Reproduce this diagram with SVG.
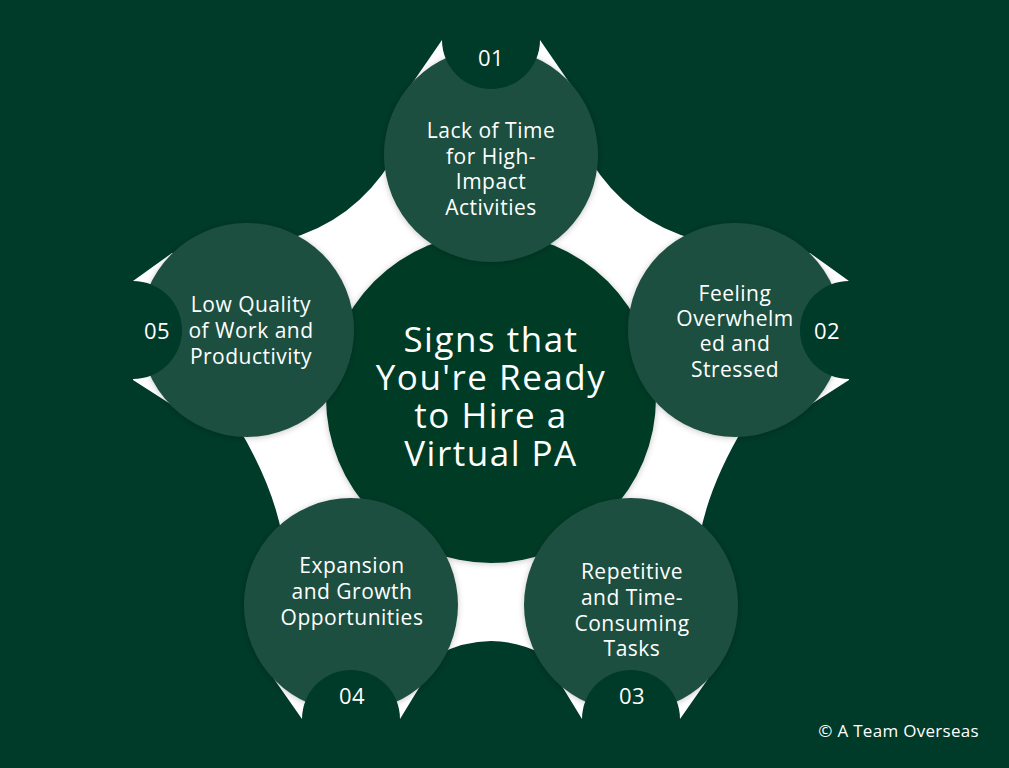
<svg xmlns="http://www.w3.org/2000/svg" width="1009" height="768" viewBox="0 0 1009 768">
<defs>
<filter id="sh" x="-20%" y="-20%" width="140%" height="140%">
<feDropShadow dx="0" dy="1" stdDeviation="3" flood-color="#000" flood-opacity="0.22"/>
</filter>
<style>
.bg{fill:#003a28}
.dark{fill:#003a28}
.node{fill:#1f4f40}
.t{font-family:"Open Sans","Noto Sans",sans-serif;fill:#ffffff;text-anchor:middle}
.lbl{font-size:21px;letter-spacing:0.5px}
.num{font-size:22px;letter-spacing:0.5px}
.title{font-size:35px;letter-spacing:1.5px}
</style>
</defs>
<rect class="bg" x="0" y="0" width="1009" height="768"/>
<g id="connectors">
<path id="star" fill="#ffffff" d="M442,40 L540,40 L571,85 L562,110 L590,160 Q628.5,222 697,240 L782,255 L810,253 L849,281 L849,380 L810,405 L790,400 L745,425 Q709.5,484 700,535 L720,600 L700,670 L708,679 L680,719 L582,719 L560,683 L575,660 L545,655 Q491,627 437,655 L407,660 L422,683 L400,719 L302,719 L274,679 L282,670 L262,600 L282,535 Q272.5,484 237,425 L192,400 L172,405 L133,380 L133,281 L172,253 L200,255 L285,240 Q353.5,222 392,160 L420,110 L411,85 Z"/>
</g>
<g id="center" filter="url(#sh)">
<circle class="dark" cx="491" cy="398" r="165"/>
</g>
<g id="center-text">
<text class="t title" x="491" y="352">Signs that</text>
<text class="t title" x="491" y="390">You're Ready</text>
<text class="t title" x="491" y="428">to Hire a</text>
<text class="t title" x="491" y="466">Virtual PA</text>
</g>
<g id="node1">
<circle class="node" cx="491" cy="155" r="107" filter="url(#sh)"/>
<circle class="dark" cx="491" cy="40" r="49"/>
<text class="t num" x="491" y="66">01</text>
<text class="t lbl" x="491" y="138">Lack of Time</text>
<text class="t lbl" x="491" y="164">for High-</text>
<text class="t lbl" x="491" y="189">Impact</text>
<text class="t lbl" x="491" y="215">Activities</text>
</g>
<g id="node2">
<circle class="node" cx="735" cy="330" r="107" filter="url(#sh)"/>
<circle class="dark" cx="849" cy="330" r="49"/>
<text class="t num" x="827" y="339">02</text>
<text class="t lbl" x="735" y="301">Feeling</text>
<text class="t lbl" x="735" y="326">Overwhelm</text>
<text class="t lbl" x="735" y="351">ed and</text>
<text class="t lbl" x="735" y="377">Stressed</text>
</g>
<g id="node3">
<circle class="node" cx="631" cy="605" r="107" filter="url(#sh)"/>
<circle class="dark" cx="631" cy="719" r="49"/>
<text class="t num" x="632" y="704">03</text>
<text class="t lbl" x="632" y="579">Repetitive</text>
<text class="t lbl" x="632" y="605">and Time-</text>
<text class="t lbl" x="632" y="631">Consuming</text>
<text class="t lbl" x="632" y="656">Tasks</text>
</g>
<g id="node4">
<circle class="node" cx="351" cy="605" r="107" filter="url(#sh)"/>
<circle class="dark" cx="351" cy="719" r="49"/>
<text class="t num" x="352" y="704">04</text>
<text class="t lbl" x="352" y="573">Expansion</text>
<text class="t lbl" x="352" y="599">and Growth</text>
<text class="t lbl" x="352" y="625">Opportunities</text>
</g>
<g id="node5">
<circle class="node" cx="247" cy="330" r="107" filter="url(#sh)"/>
<circle class="dark" cx="133" cy="330" r="49"/>
<text class="t num" x="157" y="339">05</text>
<text class="t lbl" x="251" y="312">Low Quality</text>
<text class="t lbl" x="251" y="338">of Work and</text>
<text class="t lbl" x="251" y="364">Productivity</text>
</g>
<text class="t" x="979" y="737" style="text-anchor:end;font-size:17px;letter-spacing:0.3px">© A Team Overseas</text>
</svg>
